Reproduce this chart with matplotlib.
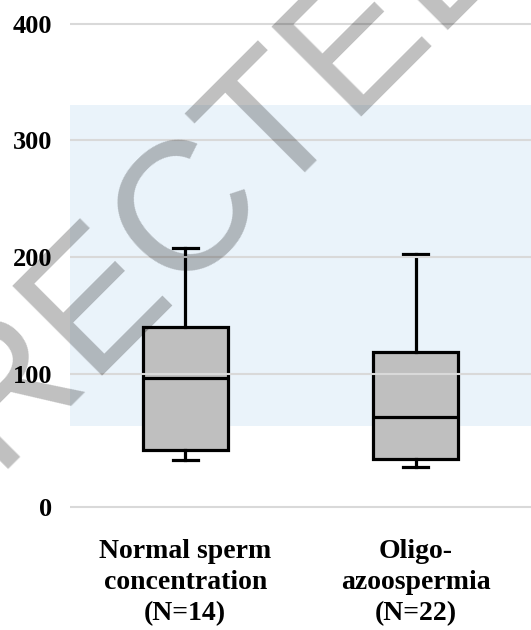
import numpy as np
import matplotlib
matplotlib.use('Agg')
from matplotlib import pyplot as plt

# data
groups = ['Normal sperm\nconcentration\n(N=14)', 'Oligo-\nazoospermia\n(N=22)']
whis_low = [35, 30]
q1 = [43, 36]
median = [97, 68]
q3 = [140, 119]
whis_high = [208, 203]
ref_low, ref_high = 61, 330
yticks = [0, 100, 200, 300, 400]

# the original axis is a little stretched between 0 and 100
STRETCH = 1.138
knots_v = [-100, 0, 100, 1000]
knots_u = [-100 * STRETCH, 0, 100 * STRETCH, 100 * STRETCH + 900]


def forward(v):
    return np.interp(v, knots_v, knots_u)


def inverse(u):
    return np.interp(u, knots_u, knots_v)


fig = plt.figure(figsize=(5.31, 6.3), dpi=100)
ax = fig.add_axes([70 / 531, 110 / 630, 461 / 531, 520 / 630])
ax.set_yscale('function', functions=(forward, inverse))

ax.axhspan(ref_low, ref_high, color='#eaf3fa', zorder=0.5, lw=0)

stats = []
for i in range(len(groups)):
    stats.append({'whislo': whis_low[i], 'q1': q1[i], 'med': median[i],
                  'q3': q3[i], 'whishi': whis_high[i], 'fliers': []})

ax.bxp(stats, positions=[0, 1], widths=0.37, capwidths=0.11,
       showfliers=False, patch_artist=True,
       boxprops=dict(facecolor='#bfbfbf', edgecolor='black', linewidth=2.3),
       medianprops=dict(color='black', linewidth=2.3),
       whiskerprops=dict(color='black', linewidth=2.3),
       capprops=dict(color='black', linewidth=2.3))

ax.set_xlim(-0.5, 1.5)
ax.set_ylim(-9.8, 420.2)
ax.set_yticks(yticks)
ax.set_xticks([0, 1])
ax.set_xticklabels(groups)
ax.set_axisbelow(False)
ax.grid(axis='y', color='#d9d9d9', linewidth=1.5)
ax.grid(axis='x', visible=False)
for s in ax.spines.values():
    s.set_visible(False)

ax.tick_params(axis='y', length=0, pad=13)
ax.tick_params(axis='x', length=0, pad=14)
for lab in ax.get_yticklabels():
    lab.set_fontfamily('Liberation Serif')
    lab.set_fontweight('bold')
    lab.set_fontsize(19)
for lab in ax.get_xticklabels():
    lab.set_fontfamily('Liberation Serif')
    lab.set_fontweight('bold')
    lab.set_fontsize(20)
    lab.set_linespacing(1.3)

# watermark
fig.text(85 / 531, 1 - 317 / 630, 'CORRECTED', fontsize=132,
         family='Liberation Sans', color=(0, 0, 0, 0.25), rotation=45,
         rotation_mode='anchor', ha='center', va='center')

fig.savefig('out.png', dpi=100)
